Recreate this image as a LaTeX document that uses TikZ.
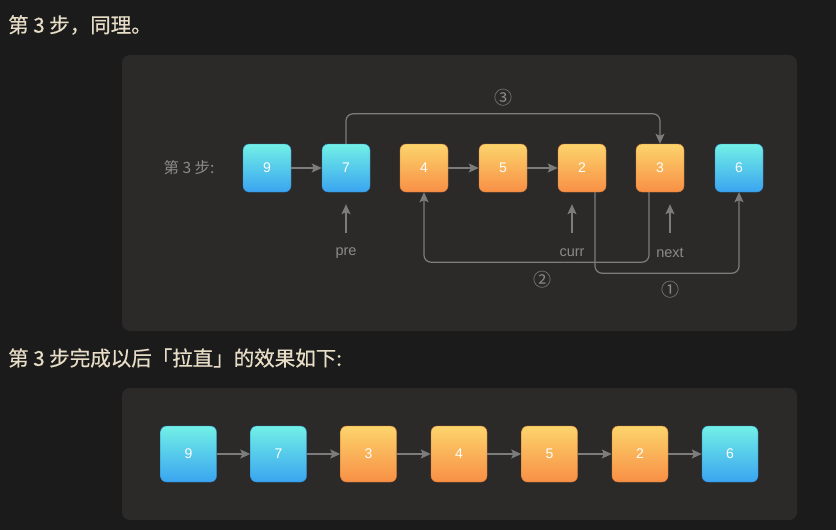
\documentclass[tikz,border=0pt]{standalone}
\usepackage{fontspec}
\setmainfont{Liberation Sans}
\newfontfamily\cjk{Noto Sans CJK SC}
\newfontfamily\cjkb{Noto Sans CJK SC}[FakeBold=0.6]
\usetikzlibrary{arrows.meta}
\definecolor{pagebg}{HTML}{1B1B1B}
\definecolor{panelbg}{HTML}{2B2A29}
\definecolor{titlecol}{HTML}{E8DEC8}
\definecolor{graytxt}{HTML}{8A8A8A}
\definecolor{linecol}{HTML}{7C7C7C}
\definecolor{bTop}{HTML}{72F0E6}
\definecolor{bBot}{HTML}{3AA4F0}
\definecolor{oTop}{HTML}{FCD46C}
\definecolor{oBot}{HTML}{F88F45}
\begin{document}
\begin{tikzpicture}[x=1pt,y=-1pt,
  box/.style={rounded corners=6pt, minimum size=#1, inner sep=0pt, text=white,
    font=\fontsize{14}{14}\selectfont, line width=0.4pt},
  bluebox/.style={box=#1, top color=bTop, bottom color=bBot, draw=bBot!85!black},
  orangebox/.style={box=#1, top color=oTop, bottom color=oBot, draw=oBot!85!black},
  conn/.style={draw=linecol, line width=1.2pt, -{Stealth[length=10pt,width=9pt,inset=2pt]}},
  lbl/.style={text=graytxt, font=\fontsize{14.5}{14.5}\selectfont},
  circ/.style={text=graytxt, font=\cjk\fontsize{18}{18}\selectfont},
  ttl/.style={text=titlecol, font=\cjkb\fontsize{20.5}{21}\selectfont, anchor=west, inner sep=0pt},
  panel/.style={fill=panelbg, rounded corners=8pt}
]
\useasboundingbox (0,0) rectangle (836,530);
\fill[pagebg] (0,0) rectangle (836,530);

% titles
\node[ttl] (t1) at (8,25) {第 3 步，同理。};
\node[ttl] (t2) at (8,358) {第 3 步完成以后「拉直」的效果如下:};

% panels
\fill[panel] (122,55) rectangle (797,331);
\fill[panel] (122,388) rectangle (797,520);

% ---------- top panel ----------
\node[lbl, font=\cjk\fontsize{15.5}{15.5}\selectfont] (step) at (189,168) {第 3 步:};
\node[bluebox=48pt] (a9) at (267,168) {9};
\node[bluebox=48pt] (a7) at (346,168) {7};
\node[orangebox=48pt] (a4) at (424,168) {4};
\node[orangebox=48pt] (a5) at (503,168) {5};
\node[orangebox=48pt] (a2) at (582,168) {2};
\node[orangebox=48pt] (a3) at (660,168) {3};
\node[bluebox=48pt] (a6) at (739,168) {6};

\draw[conn] (a9) -- (a7);
\draw[conn] (a4) -- (a5);
\draw[conn] (a5) -- (a2);

% step 3 connector
\draw[conn, rounded corners=7pt] (a7.north) -- ++(0,-30) -| (a3.north);
\node[circ] (c3) at (503,98) {③};

% step 2 connector
\draw[conn, rounded corners=7pt] ([xshift=-11pt]a3.south) -- ++(0,70) -| (a4.south);
\node[circ] (c2) at (542,280) {②};

% step 1 connector
\draw[conn, rounded corners=7pt] ([xshift=13pt]a2.south) -- ++(0,81) -| (a6.south);
\node[circ] (c1) at (670,290) {①};

% pointers
\node[lbl] (pre) at (346,253) {pre};
\node[lbl] (curr) at (572,253) {curr};
\node[lbl] (next) at (670,253) {next};
\coordinate (preA) at (346,233);
\coordinate (currA) at (572,233);
\coordinate (nextA) at (670,233);
\draw[conn, shorten >=12pt] (preA) -- (a7.south);
\draw[conn, shorten >=12pt] (currA) -- (currA |- a2.south);
\draw[conn, shorten >=12pt] (nextA) -- (nextA |- a3.south);

% ---------- bottom panel ----------
\node[bluebox=56pt] (b9) at (188.5,454) {9};
\node[bluebox=56pt] (b7) at (278.5,454) {7};
\node[orangebox=56pt] (b3) at (368.5,454) {3};
\node[orangebox=56pt] (b4) at (459,454) {4};
\node[orangebox=56pt] (b5) at (549.5,454) {5};
\node[orangebox=56pt] (b2) at (640,454) {2};
\node[bluebox=56pt] (b6) at (730,454) {6};
\draw[conn] (b9) -- (b7);
\draw[conn] (b7) -- (b3);
\draw[conn] (b3) -- (b4);
\draw[conn] (b4) -- (b5);
\draw[conn] (b5) -- (b2);
\draw[conn] (b2) -- (b6);
\end{tikzpicture}
\end{document}
